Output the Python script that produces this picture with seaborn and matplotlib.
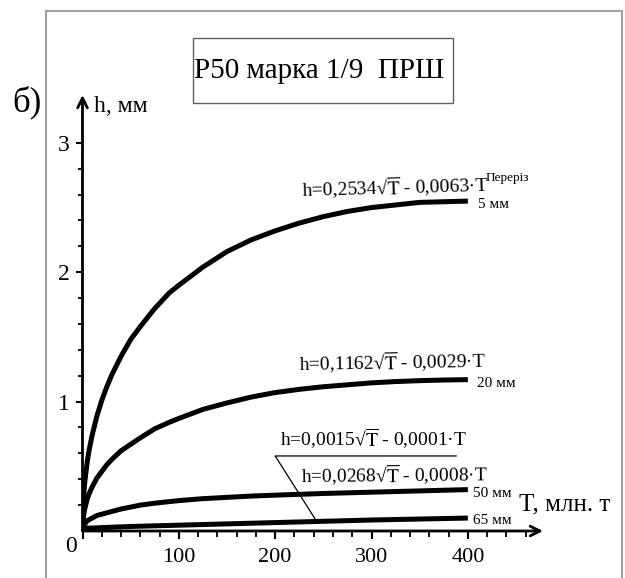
import numpy as np
import pandas as pd
import matplotlib
matplotlib.use("Agg")
import matplotlib.pyplot as plt
from matplotlib.patches import Rectangle
from matplotlib.ticker import FixedLocator
import seaborn as sns

# ---- data ----
t_5mm = [0, 1, 2, 3, 5, 7, 10, 15, 20, 25, 30, 40, 50, 60, 75, 90, 100, 125, 150,
         175, 200, 225, 250, 275, 300, 325, 350, 375, 400]
h_5mm = [0, 0.25, 0.35, 0.42, 0.54, 0.63, 0.74, 0.89, 1.01, 1.11, 1.20, 1.35, 1.48,
         1.58, 1.72, 1.84, 1.90, 2.04, 2.16, 2.25, 2.32, 2.38, 2.43, 2.47, 2.50, 2.52,
         2.54, 2.545, 2.55]

t_20mm = [0, 1, 2, 3, 5, 7, 10, 15, 20, 25, 30, 40, 50, 60, 75, 90, 100, 125, 150,
          175, 200, 225, 250, 275, 300, 325, 350, 375, 400]
h_20mm = [0, 0.11, 0.16, 0.19, 0.25, 0.29, 0.34, 0.41, 0.46, 0.51, 0.55, 0.62, 0.67,
          0.72, 0.79, 0.84, 0.87, 0.94, 0.99, 1.035, 1.07, 1.095, 1.115, 1.13, 1.145,
          1.155, 1.162, 1.167, 1.17]

t_50mm = [0, 2, 5, 10, 15, 20, 30, 40, 50, 60, 75, 100, 125, 150, 175, 200, 250,
          300, 350, 400]
h_50mm = [0.02, 0.05, 0.08, 0.10, 0.12, 0.13, 0.15, 0.17, 0.185, 0.20, 0.215, 0.235,
          0.25, 0.26, 0.27, 0.277, 0.29, 0.30, 0.31, 0.32]

t_65mm = [0, 50, 100, 200, 300, 400]
h_65mm = [0.02, 0.035, 0.045, 0.065, 0.085, 0.10]

series_names = ["5 мм", "20 мм", "50 мм", "65 мм"]
equations = [r"h=0,2534√$\overline{\mathrm{T}}$ - 0,0063·T",
             r"h=0,1162√$\overline{\mathrm{T}}$ - 0,0029·T",
             r"h=0,0268√$\overline{\mathrm{T}}$ - 0,0008·T",
             r"h=0,0015√$\overline{\mathrm{T}}$ - 0,0001·T"]
x_ticks = [100, 200, 300, 400]
y_ticks = [1, 2, 3]

frames = []
for name, t, h in zip(series_names, [t_5mm, t_20mm, t_50mm, t_65mm],
                      [h_5mm, h_20mm, h_50mm, h_65mm]):
    frames.append(pd.DataFrame({"T": t, "h": h, "s": name}))
df = pd.concat(frames, ignore_index=True)

# ---- style ----
sns.set_style("white")
plt.rcParams["font.family"] = ["Liberation Serif", "DejaVu Serif"]
plt.rcParams["mathtext.fontset"] = "stix"
plt.rcParams["mathtext.rm"] = "Liberation Serif"
plt.rcParams["text.color"] = "black"

fig = plt.figure(figsize=(6.25, 5.78), dpi=100)
W, H = 625, 578

def fx(px):
    return px / W

def fy(py):
    return (H - py) / H

# outer frame
fig.patches.append(Rectangle((fx(46), -0.05), fx(622) - fx(46), fy(11) + 0.05,
                             transform=fig.transFigure, fill=False,
                             edgecolor="#a0a0a0", linewidth=1.5))
# title box
fig.patches.append(Rectangle((fx(193), fy(103)), fx(453) - fx(193), fy(38) - fy(103),
                             transform=fig.transFigure, fill=False,
                             edgecolor="#606060", linewidth=1.0))
fig.text(fx(319), fy(71), "P50 марка 1/9  ПРШ", ha="center", va="center",
         fontsize=21)

ax = fig.add_axes([fx(82.5), fy(531), fx(543) - fx(82.5), fy(95) - fy(531)])
ax.set_xlim(0, 478)
ax.set_ylim(0, 3.37)
ax.patch.set_alpha(0)

sns.lineplot(data=df, x="T", y="h", hue="s", palette=["black"] * 4,
             linewidth=3.6, legend=False, ax=ax, sort=False,
             solid_capstyle="butt")

for s in ax.spines.values():
    s.set_visible(False)

# axes with arrows
for end in [(1.0, 0), (0, 1.0)]:
    ax.annotate("", xy=end, xytext=(0, 0), xycoords="axes fraction",
                arrowprops=dict(arrowstyle="->,head_length=0.7,head_width=0.35",
                                lw=2.0, color="black", shrinkA=0, shrinkB=0),
                annotation_clip=False)

ax.xaxis.set_major_locator(FixedLocator([0] + x_ticks))
ax.xaxis.set_minor_locator(FixedLocator(list(range(20, 461, 20))))
ax.set_xticklabels([""] + [str(v) for v in x_ticks])
ax.yaxis.set_major_locator(FixedLocator(y_ticks))
ax.yaxis.set_minor_locator(FixedLocator([round(0.2 * i, 1) for i in range(1, 16)]))
ax.set_yticklabels([str(v) for v in y_ticks])
ax.tick_params(axis="both", which="both", direction="out", color="black",
               labelcolor="black", bottom=True, left=True)
ax.tick_params(axis="x", which="major", length=6, width=1.5, labelsize=16, pad=6)
ax.tick_params(axis="x", which="minor", length=4, width=1.3)
ax.tick_params(axis="y", which="major", length=5, width=1.5, labelsize=17, pad=4)
ax.tick_params(axis="y", which="minor", length=3.5, width=1.3)
ax.set_xlabel("")
ax.set_ylabel("")

ax.text(-12, -0.12, "0", ha="center", va="center", fontsize=17, clip_on=False)

# equation labels
eq_kw = dict(ha="left", va="center", fontsize=14, rotation_mode="anchor")
ax.text(228, 2.64, equations[0], rotation=1.6, **eq_kw)
ax.text(224, 1.29, equations[1], rotation=1.0, **eq_kw)
ax.text(205, 0.71, equations[3], **eq_kw)
ax.text(227, 0.43, equations[2], rotation=0.5, **eq_kw)

lab_kw = dict(ha="left", va="center", fontsize=11)
ax.text(418, 2.73, "Переріз", ha="left", va="center", fontsize=9.5)
ax.text(411, 2.52, series_names[0], **lab_kw)
ax.text(409, 1.14, series_names[1], **lab_kw)
ax.text(405, 0.29, series_names[2], **lab_kw)
ax.text(405, 0.08, series_names[3], **lab_kw)

# leader line for the 65 mm equation
ax.plot([388, 200, 243], [0.58, 0.58, 0.075], color="black", linewidth=0.9)

# axis titles
fig.text(fx(121), fy(106), "h, мм", ha="center", va="center", fontsize=17)
fig.text(fx(565), fy(504), "T, млн. т", ha="center", va="center", fontsize=18)
fig.text(fx(27), fy(102), "б)", ha="center", va="center", fontsize=25)

fig.savefig("out.png", dpi=100)
